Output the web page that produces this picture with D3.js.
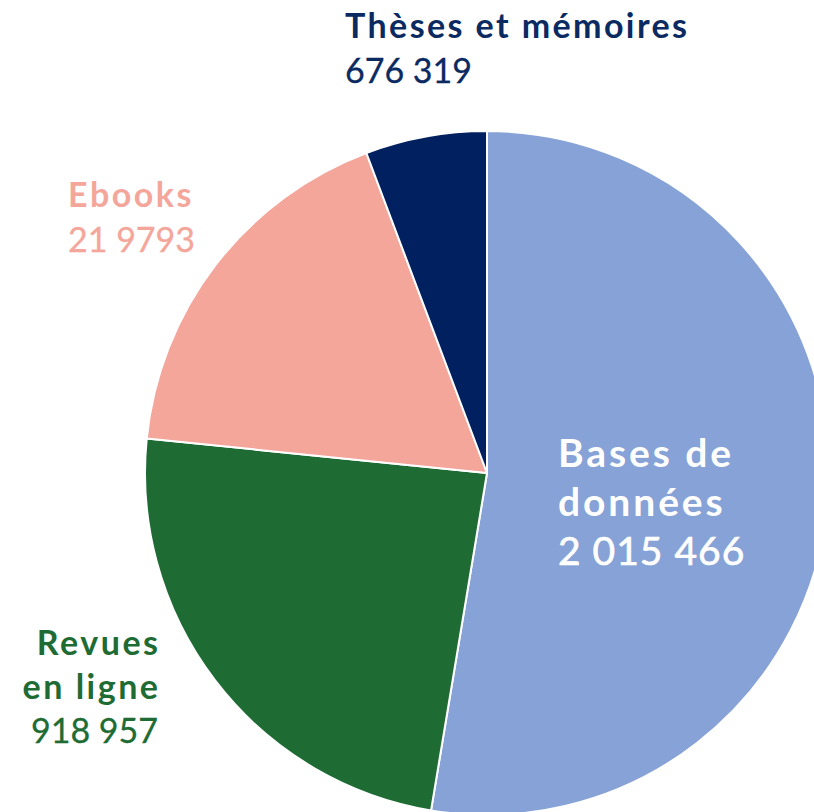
<!DOCTYPE html>
<html>
<head>
<meta charset="utf-8">
<script src="https://cdn.jsdelivr.net/npm/d3@7"></script>
<style>
  html, body { margin: 0; padding: 0; background: #ffffff; overflow: hidden; }
  svg { display: block; }
  text { font-family: Lato, "Open Sans", sans-serif; }
</style>
</head>
<body>
<svg id="chart" width="814" height="812"></svg>
<script>
// Data (slices in clockwise order from 12 o'clock)
const categories = ["Bases de données", "Revues en ligne", "Ebooks", "Thèses et mémoires"];
const sliceValues = [2015466, 918957, 676319, 219793];
// Label texts as printed in the reference
const labelTitles = [["Bases de", "données"], ["Revues", "en ligne"], ["Ebooks"], ["Thèses et mémoires"]];
const labelNumbers = ["2 015 466", "918 957", "21 9793", "676 319"];
const colors = ["#86a2d6", "#1e6b34", "#f4a69b", "#00205f"];
const labelColors = ["#ffffff", "#1e6b34", "#f4a69b", "#0b2a62"];

const svg = d3.select("#chart");
const cx = 487, cy = 473, R = 342;

const pie = d3.pie().sort(null).value(d => d.value).startAngle(0).endAngle(2 * Math.PI);
const arc = d3.arc().innerRadius(0).outerRadius(R);
const data = categories.map((c, i) => ({ cat: c, value: sliceValues[i], i }));

const g = svg.append("g").attr("transform", `translate(${cx},${cy})`);
g.selectAll("path")
  .data(pie(data))
  .join("path")
  .attr("d", arc)
  .attr("fill", d => colors[d.data.i])
  .attr("stroke", "#ffffff")
  .attr("stroke-width", 2)
  .attr("stroke-linejoin", "round");

// Label layout
const labelLayout = [
  { x: 558, y: 467, anchor: "start", size: 39, lh: 49, ls: 2.9, nls: 1.0, nsw: 0.7 },
  { x: 158, y: 655, anchor: "end", size: 34, lh: 44, ls: 2.5, nls: 0, nsw: 0.3 },
  { x: 68, y: 207, anchor: "start", size: 34, lh: 45, ls: 2.5, nls: 0, nsw: 0.3 },
  { x: 345, y: 38, anchor: "start", size: 34, lh: 45, ls: 2.4, nls: 0, nsw: 0.3 }
];

labelLayout.forEach((L, i) => {
  const endShiftT = L.anchor === "end" ? L.ls : 0;
  const endShiftN = L.anchor === "end" ? L.nls : 0;
  const t = svg.append("text")
    .attr("x", L.x).attr("y", L.y)
    .attr("text-anchor", L.anchor)
    .attr("fill", labelColors[i])
    .style("font-size", L.size + "px");
  const lines = labelTitles[i];
  lines.forEach((ln, k) => {
    t.append("tspan").attr("x", L.x + endShiftT).attr("dy", k === 0 ? 0 : L.lh)
      .style("font-weight", 700)
      .style("letter-spacing", L.ls + "px")
      .text(ln);
  });
  t.append("tspan").attr("x", L.x + endShiftN).attr("dy", L.lh)
    .style("font-weight", 400)
    .style("letter-spacing", L.nls + "px")
    .attr("stroke", labelColors[i])
    .attr("stroke-width", L.nsw)
    .text(labelNumbers[i]);
});
</script>
</body>
</html>
